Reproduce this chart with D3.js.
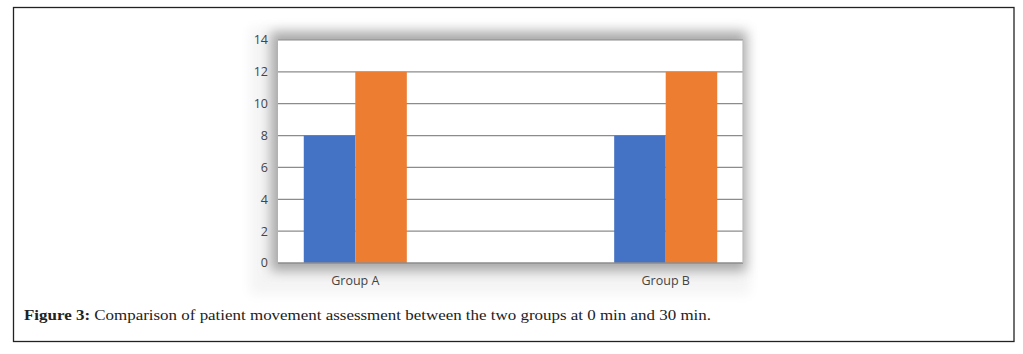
<!DOCTYPE html>
<html>
<head>
<meta charset="utf-8">
<script src="https://cdn.jsdelivr.net/npm/d3@7"></script>
<style>
  body { margin: 0; background: #fff; }
  svg { display: block; }
</style>
</head>
<body>
<svg id="chart"></svg>
<script>
// data
const groups = ["Group A", "Group B"];
const series = ["0 min", "30 min"];
const values = [
  [8, 12],  // Group A
  [8, 12],  // Group B
];
const yTicks = [0, 2, 4, 6, 8, 10, 12, 14];
const colors = ["#4472c4", "#ed7d31"];

const W = 1023, H = 354;
const svg = d3.select("#chart").attr("width", W).attr("height", H);

// outer figure frame
svg.append("rect")
  .attr("x", 13.5).attr("y", 7.5)
  .attr("width", 1000.5).attr("height", 334)
  .attr("fill", "none").attr("stroke", "#222").attr("stroke-width", 1.3);

const plot = { left: 278, right: 743, top: 40, bottom: 263 };

const defs = svg.append("defs");
const blur = defs.append("filter").attr("id", "shadow")
  .attr("x", "-10%").attr("y", "-20%").attr("width", "120%").attr("height", "140%");
blur.append("feGaussianBlur").attr("stdDeviation", 6);

const bg = defs.append("filter").attr("id", "soft")
  .attr("x", "-10%").attr("y", "-10%").attr("width", "120%").attr("height", "120%");
bg.append("feGaussianBlur").attr("stdDeviation", 6);

// pale image backdrop
svg.append("rect")
  .attr("x", 250).attr("y", 28).attr("width", 500).attr("height", 266)
  .attr("fill", "#f4f4f4").attr("filter", "url(#soft)");

// plot shadow
svg.append("rect")
  .attr("x", plot.left - 7).attr("y", plot.top - 8)
  .attr("width", plot.right - plot.left + 10).attr("height", plot.bottom - plot.top + 16)
  .attr("fill", "#a8a8a8").attr("filter", "url(#shadow)");

svg.append("rect")
  .attr("x", plot.left).attr("y", plot.top)
  .attr("width", plot.right - plot.left).attr("height", plot.bottom - plot.top)
  .attr("fill", "#fff");

const y = d3.scaleLinear().domain([0, 14]).range([plot.bottom, plot.top]);
const x0 = d3.scaleBand().domain(groups).range([plot.left, plot.right])
  .paddingInner(0.668).paddingOuter(0.083);
const x1 = d3.scaleBand().domain(series).range([0, x0.bandwidth()]);

// gridlines
svg.append("g")
  .selectAll("line")
  .data(yTicks.filter(d => d > 0))
  .join("line")
  .attr("x1", plot.left).attr("x2", plot.right)
  .attr("y1", d => y(d)).attr("y2", d => y(d))
  .attr("stroke", "#8c8c8c").attr("stroke-width", 1.2);

// bars
svg.append("g")
  .selectAll("g")
  .data(groups)
  .join("g")
  .attr("transform", g => `translate(${x0(g)},0)`)
  .selectAll("rect")
  .data((g, i) => values[i].map((v, j) => ({ s: series[j], v, j })))
  .join("rect")
  .attr("x", d => x1(d.s))
  .attr("width", x1.bandwidth())
  .attr("y", d => y(d.v))
  .attr("height", d => y(0) - y(d.v))
  .attr("fill", d => colors[d.j]);

// plot frame edges
svg.append("line")
  .attr("x1", plot.left).attr("x2", plot.right)
  .attr("y1", plot.bottom).attr("y2", plot.bottom)
  .attr("stroke", "#8c8c8c").attr("stroke-width", 1.5);
svg.append("line")
  .attr("x1", plot.right).attr("x2", plot.right)
  .attr("y1", plot.top).attr("y2", plot.bottom)
  .attr("stroke", "#bdbdbd").attr("stroke-width", 1.2);

// y axis labels
svg.append("g")
  .selectAll("text")
  .data(yTicks)
  .join("text")
  .attr("x", 268).attr("y", d => y(d))
  .attr("dy", "0.35em")
  .attr("text-anchor", "end")
  .attr("font-family", "Open Sans, sans-serif")
  .attr("font-size", 12.5)
  .attr("fill", "#444")
  .text(d => d);

// x axis labels
svg.append("g")
  .selectAll("text")
  .data(groups)
  .join("text")
  .attr("x", g => x0(g) + x0.bandwidth() / 2)
  .attr("y", 281)
  .attr("dy", "0.35em")
  .attr("text-anchor", "middle")
  .attr("font-family", "Open Sans, sans-serif")
  .attr("font-size", 12.5)
  .attr("fill", "#444")
  .text(g => g);

// caption
const cap = svg.append("text")
  .attr("x", 24).attr("y", 320)
  .attr("font-family", "Liberation Serif, serif")
  .attr("font-size", 15.5)
  .attr("fill", "#222")
  .attr("textLength", 687)
  .attr("lengthAdjust", "spacingAndGlyphs");
cap.append("tspan").attr("font-weight", "bold").text("Figure 3:");
cap.append("tspan").text(" Comparison of patient movement assessment between the two groups at 0 min and 30 min.");
</script>
</body>
</html>
